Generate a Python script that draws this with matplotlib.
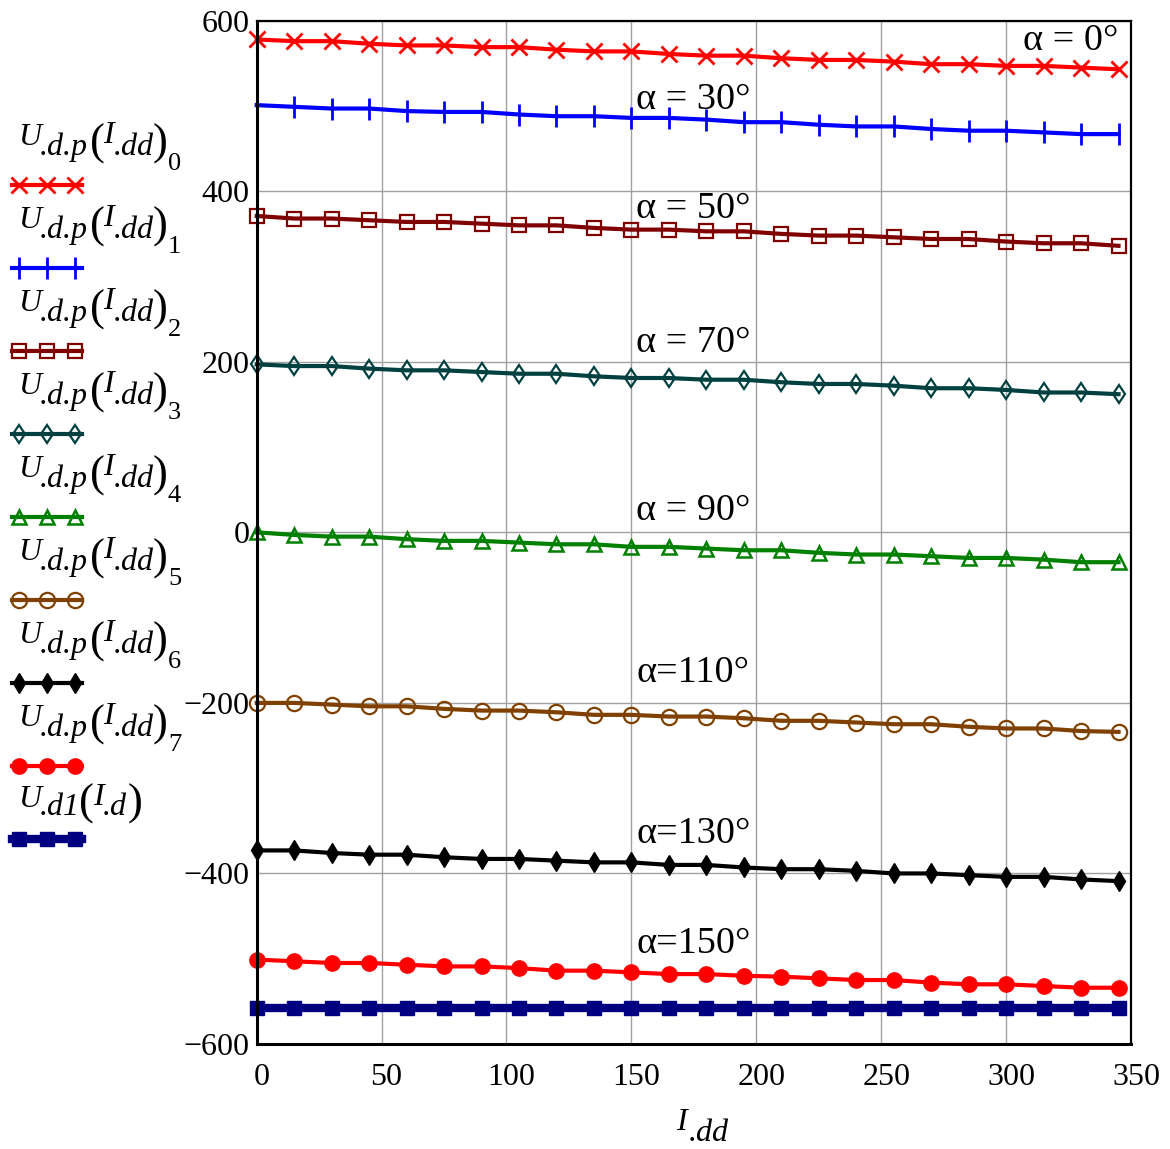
import matplotlib.pyplot as plt
import matplotlib.transforms as mtrans
from matplotlib.lines import Line2D

# ── Data ────────────────────────────────────────────────────────────────────
I_DD = [0, 15, 30, 45, 60, 75, 90, 105, 120, 135, 150, 165,
        180, 195, 210, 225, 240, 255, 270, 285, 300, 315, 330, 345]

U_0 = [578, 576, 576, 573, 571, 571, 569, 569, 566, 564, 564, 561,
       559, 559, 556, 554, 554, 552, 549, 549, 547, 547, 545, 543]
U_1 = [501, 499, 497, 497, 494, 493, 493, 490, 488, 488, 486, 486,
       484, 481, 481, 478, 476, 476, 473, 471, 471, 469, 467, 467]
U_2 = [371, 368, 368, 366, 364, 364, 362, 360, 360, 357, 355, 355,
       353, 353, 350, 348, 348, 346, 344, 344, 341, 339, 339, 336]
U_3 = [197, 195, 195, 192, 190, 190, 188, 186, 186, 183, 181, 181,
       179, 179, 176, 174, 174, 172, 169, 169, 167, 164, 164, 162]
U_4 = [0, -3, -5, -5, -8, -10, -10, -12, -14, -14, -17, -17,
       -19, -21, -21, -24, -26, -26, -28, -30, -30, -32, -35, -35]
U_5 = [-200, -200, -202, -204, -204, -207, -209, -209, -211, -214, -214, -216,
       -216, -218, -221, -221, -223, -225, -225, -228, -230, -230, -233, -234]
U_6 = [-373, -373, -376, -378, -378, -381, -383, -383, -385, -387, -387, -390,
       -390, -393, -395, -395, -397, -400, -400, -402, -404, -404, -407, -409]
U_7 = [-501, -503, -505, -505, -507, -509, -509, -511, -514, -514, -516, -518,
       -518, -520, -521, -523, -525, -525, -528, -530, -530, -532, -534, -534]
U_D1 = [-558, -558, -558, -558, -558, -558, -558, -558, -558, -558, -558, -558,
        -558, -558, -558, -558, -558, -558, -558, -558, -558, -558, -558, -558]

SERIES = [U_0, U_1, U_2, U_3, U_4, U_5, U_6, U_7, U_D1]
SUB_INDEX = ["0", "1", "2", "3", "4", "5", "6", "7"]

ALPHA_TEXT = ["α = 30°", "α = 50°", "α = 70°", "α = 90°",
              "α=110°", "α=130°", "α=150°"]
ALPHA_Y = [507, 380, 222, 25, -165, -353, -483]

# ── Styles ──────────────────────────────────────────────────────────────────
STYLES = [
    dict(color="#ff0000", marker="x", ms=11, mew=2.0, mfc="#ff0000", lw=3),
    dict(color="#0000ff", marker="|", ms=16, mew=2.0, mfc="#0000ff", lw=3),
    dict(color="#800000", marker="s", ms=10, mew=1.6, mfc="none", lw=3),
    dict(color="#004040", marker="d", ms=9.5, mew=1.6, mfc="none", lw=3),
    dict(color="#008000", marker="^", ms=10, mew=1.8, mfc="none", lw=3),
    dict(color="#804000", marker="o", ms=11, mew=1.6, mfc="none", lw=3),
    dict(color="#000000", marker="d", ms=10, mew=1.0, mfc="#000000", lw=3),
    dict(color="#ff0000", marker="o", ms=11, mew=1.0, mfc="#ff0000", lw=3),
    dict(color="#000080", marker="s", ms=10, mew=1.0, mfc="#000080", lw=6),
]

plt.rcParams.update({
    "font.family": "Liberation Serif",
    "axes.unicode_minus": True,
})

W, H = 1170, 1149
fig = plt.figure(figsize=(W / 100, H / 100), dpi=100)
ax = fig.add_axes([256.7 / W, 1 - 1044 / H, (1131 - 256.7) / W, (1044 - 20.7) / H])

for ys, st in zip(SERIES, STYLES):
    ax.plot(I_DD, ys, linestyle="-", clip_on=False, **st)

ax.set_xlim(0, 350)
ax.set_ylim(-600, 600)
ax.set_xticks(range(0, 351, 50))
ax.set_yticks(range(-600, 601, 200))
ax.tick_params(length=0, labelsize=23)
ax.tick_params(axis="x", pad=14)
ax.tick_params(axis="y", pad=5)
# Mathcad puts the x labels a few pixels right of their grid lines
shift = mtrans.ScaledTranslation(5 / 100, 0, fig.dpi_scale_trans)
for lbl in ax.get_xticklabels():
    lbl.set_transform(lbl.get_transform() + shift)
ax.grid(True, color="#a0a0a0", linewidth=1.0)
ax.set_axisbelow(True)
for side in ("left", "bottom"):
    ax.spines[side].set_linewidth(2.2)
for side in ("top", "right"):
    ax.spines[side].set_linewidth(1.6)

# α annotations
ax.text(345, 576, "α = 0°", fontsize=27.5, ha="right", va="center")
for txt, yv in zip(ALPHA_TEXT, ALPHA_Y):
    ax.text(152, yv, txt, fontsize=27.5, ha="left", va="center")


def put(x, y, s, size, style="italic"):
    fig.text(x / W, 1 - y / H, s, fontsize=size, style=style,
             ha="left", va="baseline")


# x label  I.dd
put(676, 1130, "I", 23)
put(689, 1141, ".dd", 23)

# ── Manual legend (label above its line sample) ────────────────────────────
for i, st in enumerate(STYLES):
    dy = 83 * i
    if i < 8:
        put(18, 145 + dy, "U", 23)
        put(40, 155 + dy, ".d.p", 23)
        put(90, 155 + dy, "(", 32, "normal")
        put(103, 143 + dy, "I", 23)
        put(114, 155 + dy, ".dd", 23)
        put(153, 155 + dy, ")", 32, "normal")
        put(168, 170 + dy, SUB_INDEX[i], 19, "normal")
        ly = 185 + dy
    else:
        put(18, 807, "U", 23)
        put(40, 815, ".d1", 23)
        put(79, 815, "(", 32, "normal")
        put(93, 805, "I", 23)
        put(103, 815, ".d", 23)
        put(128, 815, ")", 32, "normal")
        ly = 839
    fig.add_artist(Line2D([12 / W, 82 / W], [1 - ly / H, 1 - ly / H],
                          color=st["color"], lw=st["lw"]))
    fig.add_artist(Line2D([19 / W, 47 / W, 75 / W], [1 - ly / H] * 3,
                          linestyle="none", marker=st["marker"], ms=st["ms"],
                          mew=st["mew"], mfc=st["mfc"], color=st["color"]))

fig.savefig("out.png", dpi=100)
